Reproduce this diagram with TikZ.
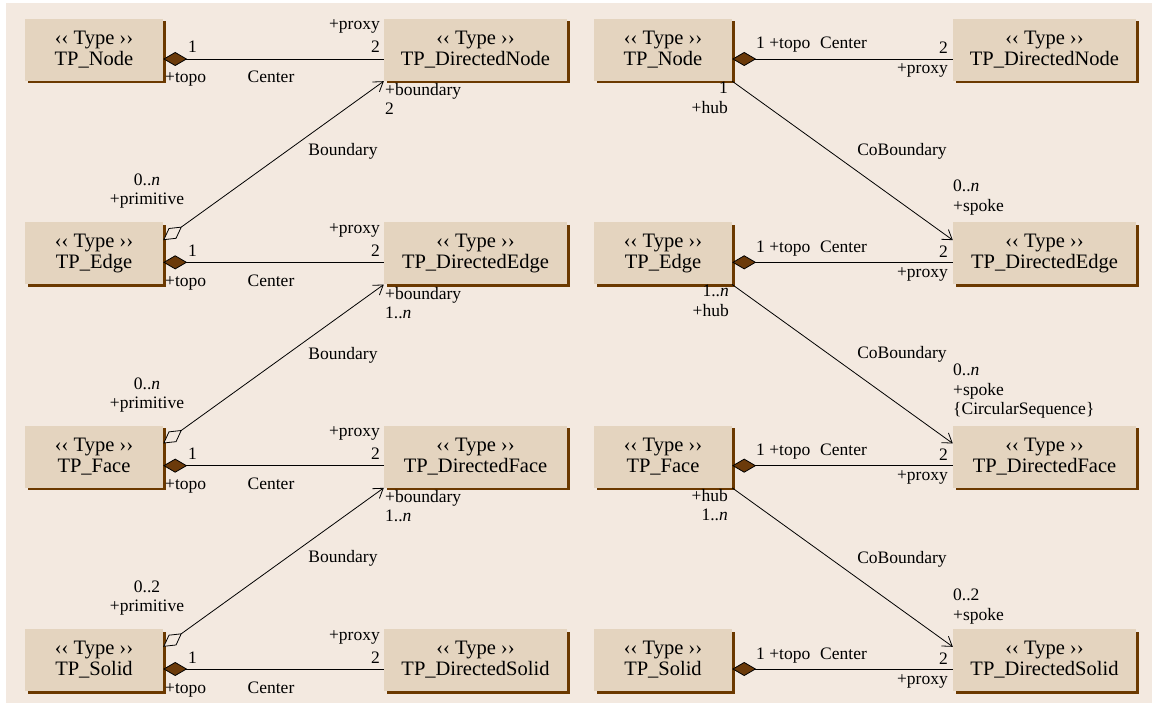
\documentclass[tikz,border=0pt]{standalone}
\usepackage{fontspec}
\setmainfont{Liberation Serif}
\usetikzlibrary{arrows.meta,shadows}
\definecolor{bgc}{HTML}{F3E9E0}
\definecolor{boxc}{HTML}{E4D4BF}
\definecolor{shc}{HTML}{6B3900}
\definecolor{diac}{HTML}{6B3A0A}
\begin{document}
\begin{tikzpicture}[x=1pt,y=-1pt,
  umlbox/.style={draw=none, fill=boxc, minimum height=62pt, inner sep=0pt, align=center,
    font=\fontsize{20.5}{21}\selectfont,
    general shadow={fill=shc, shadow xshift=2.5pt, shadow yshift=-2.5pt}},
  smallbox/.style={umlbox, minimum width=138pt},
  bigbox/.style={umlbox, minimum width=183pt},
  lbl/.style={inner sep=0pt, font=\fontsize{17.5}{18}\selectfont, text height=12pt, text depth=4pt},
  comp/.style={draw=black, line width=0.8pt, {Diamond[length=24pt,width=14pt,fill=diac]}-},
  aggr/.style={draw=black, line width=0.8pt, {Diamond[length=23pt,width=13pt,fill=bgc]}-{Straight Barb[length=9pt,width=12pt]}},
  nav/.style={draw=black, line width=0.8pt, -{Straight Barb[length=9pt,width=12pt]}},
]
\useasboundingbox (0,0) rectangle (1152,708);
\fill[bgc] (6,3) rectangle (1152,703);

% boxes, center connectors and their labels
\foreach \y/\i/\n/\d in {50/1/Node/DirectedNode, 253.33/2/Edge/DirectedEdge, 456.67/3/Face/DirectedFace, 660/4/Solid/DirectedSolid}{
  \node[smallbox] (L\i) at (94,\y) {‹‹ Type ››\\TP\_\n};
  \node[bigbox] (LD\i) at (475.5,\y) {‹‹ Type ››\\TP\_\d};
  \node[smallbox] (R\i) at (663,\y) {‹‹ Type ››\\TP\_\n};
  \node[bigbox] (RD\i) at (1044.5,\y) {‹‹ Type ››\\TP\_\d};
  \draw[comp] ([yshift=-9pt]L\i.east) -- ([yshift=-9pt]LD\i.west);
  \draw[comp] ([yshift=-9pt]R\i.east) -- ([yshift=-9pt]RD\i.west);
  % left labels
  \node[lbl, anchor=west] (la\i) at (188,{\y-1}) {1};
  \node[lbl, anchor=west] (lt\i) at (165,{\y+29}) {+topo};
  \node[lbl] (lc\i) at (271,{\y+29}) {Center};
  \node[lbl, anchor=east] (lp\i) at (380,{\y-24}) {+proxy};
  \node[lbl, anchor=east] (lm\i) at (380,{\y-1}) {2};
  % right labels
  \node[lbl, anchor=west] (ra\i) at (756,{\y-5}) {1 +topo};
  \node[lbl, anchor=west] (rc\i) at (820,{\y-5}) {Center};
  \node[lbl, anchor=east] (rm\i) at (948,\y) {2};
  \node[lbl, anchor=east] (rp\i) at (948,{\y+20}) {+proxy};
}

% Boundary connectors (left)
\draw[aggr] ([yshift=-18pt]L2.north east) -- (LD1.south west);
\draw[aggr] ([yshift=-18pt]L3.north east) -- (LD2.south west);
\draw[aggr] ([yshift=-18pt]L4.north east) -- (LD3.south west);

\foreach \y/\i/\m/\p in {50/1/2/0..\textit{n}, 253.33/2/1..\textit{n}/0..\textit{n}, 456.67/3/1..\textit{n}/0..2}{
  \node[lbl, anchor=west] (bb\i) at (385,{\y+42}) {+boundary};
  \node[lbl, anchor=west] (bm\i) at (385,{\y+61}) {\m};
  \node[lbl] (bn\i) at (343,{\y+102}) {Boundary};
  \node[lbl] (bq\i) at (147,{\y+132}) {\p};
  \node[lbl] (bp\i) at (147,{\y+151}) {+primitive};
}

% CoBoundary connectors (right)
\draw[nav] (R1.south east) -- ([yshift=-18pt]RD2.north west);
\draw[nav] (R2.south east) -- ([yshift=-18pt]RD3.north west);
\draw[nav] (R3.south east) -- ([yshift=-18pt]RD4.north west);

\node[lbl, anchor=east] (h1a) at (728,90) {1};
\node[lbl, anchor=east] (h1b) at (728,110) {+hub};
\node[lbl] (cb1) at (902,152) {CoBoundary};
\node[lbl, anchor=west] (s1a) at (953,188) {0..\textit{n}};
\node[lbl, anchor=west] (s1b) at (953,208) {+spoke};

\node[lbl, anchor=east] (h2a) at (729,293) {1..\textit{n}};
\node[lbl, anchor=east] (h2b) at (729,313) {+hub};
\node[lbl] (cb2) at (902,355) {CoBoundary};
\node[lbl, anchor=west] (s2a) at (953,372) {0..\textit{n}};
\node[lbl, anchor=west] (s2b) at (953,392) {+spoke};
\node[lbl, anchor=west] (s2c) at (953,411) {\{CircularSequence\}};

\node[lbl, anchor=east] (h3a) at (728,497) {+hub};
\node[lbl, anchor=east] (h3b) at (728,517) {1..\textit{n}};
\node[lbl] (cb3) at (902,559) {CoBoundary};
\node[lbl, anchor=west] (s3a) at (953,596) {0..2};
\node[lbl, anchor=west] (s3b) at (953,616) {+spoke};
\end{tikzpicture}
\end{document}
